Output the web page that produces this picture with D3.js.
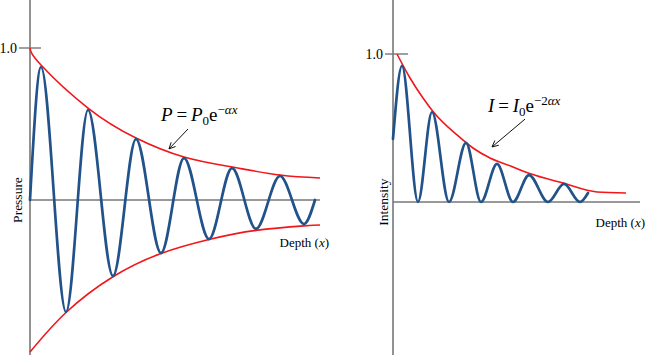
<!DOCTYPE html>
<html>
<head>
<meta charset="utf-8">
<script src="https://cdn.jsdelivr.net/npm/d3@7"></script>
<style>
  html, body { margin: 0; padding: 0; background: #fff; }
  svg { display: block; }
  text { font-family: "Liberation Serif", "Times New Roman", Tinos, serif; fill: #000; }
</style>
</head>
<body>
<svg id="chart" width="646" height="355"></svg>
<script>
// ---------- data ----------
// Left panel: pressure wave (extremes), depth in arbitrary units
const pressureDepth = [0, 1.1, 3.6, 5.8, 8.3, 10.6, 13.1, 15.4, 17.9, 20.2, 22.6, 25.0, 27.4, 28.5];
const pressureValue = [0, 0.875, -0.737, 0.592, -0.5, 0.401, -0.349, 0.276, -0.257, 0.21, -0.19, 0.158, -0.158, 0];
// Upper envelope  P = P0 e^{-ax}
const envUpperDepth = [0, 1.1, 5.8, 10.6, 15.4, 20.2, 25.0, 29];
const envUpperValue = [1.0, 0.888, 0.605, 0.408, 0.283, 0.217, 0.164, 0.145];
// Lower envelope
const envLowerDepth = [0, 3.6, 8.3, 13.1, 17.9, 22.6, 27.4, 29];
const envLowerValue = [-1.0, -0.74, -0.505, -0.352, -0.26, -0.2, -0.17, -0.164];

// Right panel: intensity wave (extremes)
const intensityDepth = [0, 0.9, 2.5, 3.9, 5.6, 7.3, 8.8, 10.4, 12.0, 13.6, 15.5, 17.1, 18.7, 19.5];
const intensityValue = [0.426, 0.92, 0, 0.608, 0, 0.4, 0, 0.257, 0, 0.182, 0, 0.122, 0, 0.061];
// Envelope  I = I0 e^{-2ax}
const envIDepth = [0.4, 1.7, 3.0, 4.0, 6.4, 8.0, 9.7, 11.7, 13.6, 17.0, 20.4, 23.3];
const envIValue = [1.0, 0.838, 0.703, 0.612, 0.453, 0.365, 0.297, 0.245, 0.194, 0.128, 0.068, 0.061];

const tickLabels = ["1.0"];
const tickValues = [1.0];

// ---------- drawing ----------
const svg = d3.select("#chart");
const H = 355;
const BLUE = "#22528a", RED = "#f2161b", GRAY = "#777777";

function zip(xs, ys) { return xs.map((d, i) => [d, ys[i]]); }

function panel(opts) {
  const g = svg.append("g");
  const x = opts.x, y = opts.y;
  const x0 = x(0);

  // zero line
  g.append("line")
    .attr("x1", x0).attr("x2", x(opts.zeroEnd))
    .attr("y1", y(0)).attr("y2", y(0))
    .attr("stroke", GRAY).attr("stroke-width", 1.6);

  // y axis
  g.append("line")
    .attr("x1", x0).attr("x2", x0).attr("y1", 0).attr("y2", H)
    .attr("stroke", GRAY).attr("stroke-width", 1.6);

  // tick
  tickValues.forEach((t, i) => {
    g.append("line")
      .attr("x1", x0 - opts.tickL).attr("x2", x0 + opts.tickR)
      .attr("y1", y(t)).attr("y2", y(t))
      .attr("stroke", GRAY).attr("stroke-width", 1.4);
    g.append("text")
      .attr("x", x0 - opts.tickL - 2).attr("y", y(t) + 5)
      .attr("text-anchor", "end").attr("font-size", 14)
      .text(tickLabels[i]);
  });

  const wave = d3.line().x(d => x(d[0])).y(d => y(d[1])).curve(d3.curveMonotoneX);
  const env = d3.line().x(d => x(d[0])).y(d => y(d[1])).curve(opts.envCurve);

  opts.envelopes.forEach(e => {
    g.append("path").attr("d", env(e)).attr("fill", "none")
      .attr("stroke", RED).attr("stroke-width", 1.6);
  });

  g.append("path").attr("d", wave(opts.wave)).attr("fill", "none")
    .attr("stroke", BLUE).attr("stroke-width", 2.7)
    .attr("stroke-linejoin", "round").attr("stroke-linecap", "round");

  // y label
  g.append("text")
    .attr("transform", `translate(${opts.ylabX},${y(0)}) rotate(-90)`)
    .attr("text-anchor", "middle").attr("font-size", 13.5)
    .text(opts.ylab);

  // x label (anchored at its right end)
  const xl = g.append("text")
    .attr("x", x(opts.xlab[0])).attr("y", y(opts.xlab[1]))
    .attr("text-anchor", "end")
    .attr("font-size", 13);
  xl.append("tspan").text("Depth (");
  xl.append("tspan").attr("font-style", "italic").text("x");
  xl.append("tspan").text(")");

  // arrow
  const [ax1, ay1] = [x(opts.arrow[0]), y(opts.arrow[1])];
  const [ax2, ay2] = [x(opts.arrow[2]), y(opts.arrow[3])];
  const ang = Math.atan2(ay2 - ay1, ax2 - ax1);
  const hl = 7, ha = 0.45;
  g.append("path")
    .attr("d", `M${ax1},${ay1}L${ax2},${ay2}` +
      `M${ax2 - hl * Math.cos(ang - ha)},${ay2 - hl * Math.sin(ang - ha)}L${ax2},${ay2}` +
      `L${ax2 - hl * Math.cos(ang + ha)},${ay2 - hl * Math.sin(ang + ha)}`)
    .attr("fill", "none").attr("stroke", "#111").attr("stroke-width", 1);

  // equation
  const eq = g.append("text")
    .attr("x", x(opts.eq[0])).attr("y", y(opts.eq[1]))
    .attr("font-size", 19);
  const s = opts.sym;
  eq.append("tspan").attr("font-style", "italic").text(s);
  eq.append("tspan").text("\u2009=\u2009");
  eq.append("tspan").attr("font-style", "italic").text(s);
  eq.append("tspan").attr("font-size", 13).attr("dy", 4).text("0");
  eq.append("tspan").attr("dy", -4).text("e");
  eq.append("tspan").attr("font-size", 13).attr("dy", -7).text(opts.expPre);
  eq.append("tspan").attr("font-size", 13).attr("font-style", "italic").text("\u03b1x");
}

// Left panel
const xL = d3.scaleLinear().domain([0, 29]).range([30, 320]);
const yL = d3.scaleLinear().domain([-1, 1]).range([352, 48]);
panel({
  x: xL, y: yL, zeroEnd: 29, tickL: 11, tickR: 11, envCurve: d3.curveNatural,
  envelopes: [zip(envUpperDepth, envUpperValue), zip(envLowerDepth, envLowerValue)],
  wave: zip(pressureDepth, pressureValue),
  ylab: "Pressure", ylabX: 22,
  xlab: [29.9, -0.309],
  arrow: [15.8, 0.467, 13.9, 0.336],
  eq: [13.1, 0.52], sym: "P", expPre: "\u2212"
});

// Right panel
const xR = d3.scaleLinear().domain([0, 24.7]).range([393, 640]);
const yR = d3.scaleLinear().domain([0, 1]).range([202, 54]);
panel({
  x: xR, y: yR, zeroEnd: 24.7, tickL: 8, tickR: 15, envCurve: d3.curveMonotoneX,
  envelopes: [zip(envIDepth, envIValue)],
  wave: zip(intensityDepth, intensityValue),
  ylab: "Intensity", ylabX: 388,
  xlab: [25.2, -0.169],
  arrow: [13.2, 0.56, 9.9, 0.372],
  eq: [9.5, 0.608], sym: "I", expPre: "\u22122"
});
</script>
</body>
</html>
